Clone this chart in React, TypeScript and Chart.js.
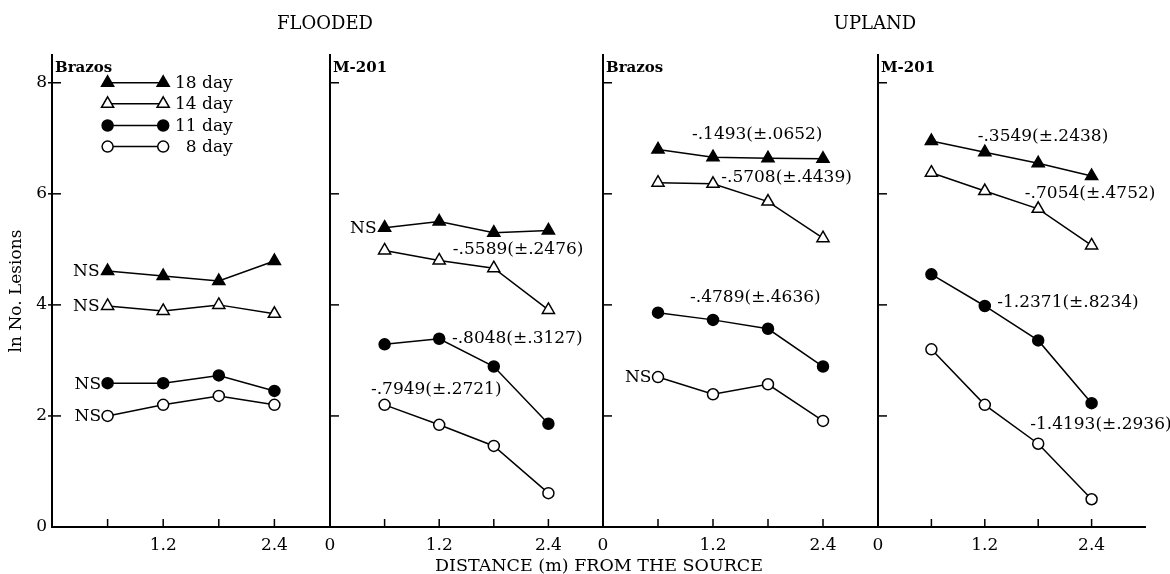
import React, { useEffect, useRef } from 'react';
import { Chart, registerables } from 'chart.js';

Chart.register(...registerables);

const FONT_FAMILY = '"DejaVu Serif", serif';
const FONT_SIZE = 17;

// ---- axes / ticks ----
const distances = [0.6, 1.2, 1.8, 2.4];
const xTickValues = [0, 0.6, 1.2, 1.8, 2.4];
const xTickLabels = ['0', '', '1.2', '', '2.4'];
const yTickValues = [0, 2, 4, 6, 8];
const yTickLabels = ['0', '2', '4', '6', '8'];
const seriesNames = ['18 day', '14 day', '11 day', '8 day'];
const groupTitles = ['FLOODED', 'UPLAND'];
const panelNames = ['Brazos', 'M-201', 'Brazos', 'M-201'];
const yAxisTitle = 'ln No. Lesions';
const xAxisTitle = 'DISTANCE (m) FROM THE SOURCE';

// ---- data: ln No. Lesions at 0.6, 1.2, 1.8, 2.4 m ----
const floodedBrazos18 = [4.61, 4.52, 4.43, 4.79];
const floodedBrazos14 = [3.98, 3.89, 4.0, 3.84];
const floodedBrazos11 = [2.59, 2.59, 2.73, 2.45];
const floodedBrazos8 = [2.0, 2.2, 2.36, 2.2];

const floodedM201_18 = [5.39, 5.5, 5.3, 5.34];
const floodedM201_14 = [4.98, 4.8, 4.66, 3.91];
const floodedM201_11 = [3.29, 3.39, 2.89, 1.86];
const floodedM201_8 = [2.2, 1.84, 1.46, 0.61];

const uplandBrazos18 = [6.8, 6.66, 6.64, 6.63];
const uplandBrazos14 = [6.2, 6.18, 5.86, 5.2];
const uplandBrazos11 = [3.86, 3.73, 3.57, 2.89];
const uplandBrazos8 = [2.7, 2.39, 2.57, 1.91];

const uplandM201_18 = [6.95, 6.75, 6.55, 6.32];
const uplandM201_14 = [6.38, 6.05, 5.73, 5.07];
const uplandM201_11 = [4.55, 3.98, 3.36, 2.23];
const uplandM201_8 = [3.2, 2.2, 1.5, 0.5];

const panelSeries = [
  [floodedBrazos18, floodedBrazos14, floodedBrazos11, floodedBrazos8],
  [floodedM201_18, floodedM201_14, floodedM201_11, floodedM201_8],
  [uplandBrazos18, uplandBrazos14, uplandBrazos11, uplandBrazos8],
  [uplandM201_18, uplandM201_14, uplandM201_11, uplandM201_8],
];

// ---- annotations ----
const nsMarks = [
  { panel: 0, series: 0 },
  { panel: 0, series: 1 },
  { panel: 0, series: 2 },
  { panel: 0, series: 3 },
  { panel: 1, series: 0 },
  { panel: 2, series: 3 },
];
const slopeTexts = [
  [],
  ['-.5589(±.2476)', '-.8048(±.3127)', '-.7949(±.2721)'],
  ['-.1493(±.0652)', '-.5708(±.4439)', '-.4789(±.4636)'],
  ['-.3549(±.2438)', '-.7054(±.4752)', '-1.2371(±.8234)', '-1.4193(±.2936)'],
];
// left-anchored label positions in data units (distance, ln lesions)
const slopeAnchorX = [[], [1.35, 1.34, 0.45], [0.97, 1.29, 0.95], [1.12, 1.65, 1.34, 1.71]];
const slopeAnchorY = [[], [4.99, 3.4, 2.47], [7.06, 6.29, 4.13], [7.03, 6.0, 4.04, 1.84]];

// ---- legend layout (panel 1), in data units ----
const legendRowY = [8.0, 7.62, 7.23, 6.85];
const legendMarkerX = [0.6, 1.2];
const legendTextRightX = 1.95;

// ---- styles ----
const seriesStyles = [
  { pointStyle: 'triangle', filled: true, radius: 7 },
  { pointStyle: 'triangle', filled: false, radius: 7 },
  { pointStyle: 'circle', filled: true, radius: 5.5 },
  { pointStyle: 'circle', filled: false, radius: 5.5 },
];

const CANVAS_H = 574;
const panelFrames = [
  { left: 0, width: 330, yAxisWidth: 52, padRight: 0 },
  { left: 310, width: 293, yAxisWidth: 20, padRight: 0 },
  { left: 583, width: 295, yAxisWidth: 20, padRight: 0 },
  { left: 858, width: 312, yAxisWidth: 20, padRight: 25 },
];

function drawMarker(ctx: CanvasRenderingContext2D, style: any, x: number, y: number) {
  ctx.save();
  ctx.beginPath();
  const r = style.radius;
  if (style.pointStyle === 'triangle') {
    ctx.moveTo(x, y - r);
    ctx.lineTo(x + 0.866 * r, y + 0.5 * r);
    ctx.lineTo(x - 0.866 * r, y + 0.5 * r);
    ctx.closePath();
  } else {
    ctx.arc(x, y, r, 0, Math.PI * 2);
  }
  ctx.fillStyle = style.filled ? '#000' : '#fff';
  ctx.fill();
  ctx.lineWidth = 1.5;
  ctx.strokeStyle = '#000';
  ctx.stroke();
  ctx.restore();
}

function makeOverlay(index: number) {
  return {
    id: 'overlay' + index,
    afterDraw(chart: any) {
      const ctx: CanvasRenderingContext2D = chart.ctx;
      const xs = chart.scales.x;
      const ys = chart.scales.y;
      const area = chart.chartArea;
      ctx.save();
      ctx.strokeStyle = '#000';
      ctx.lineWidth = 1.5;
      // inward tick marks
      distances.forEach((v) => {
        const px = xs.getPixelForValue(v);
        ctx.beginPath();
        ctx.moveTo(px, area.bottom);
        ctx.lineTo(px, area.bottom - 8);
        ctx.stroke();
      });
      yTickValues.slice(1).forEach((v) => {
        const py = ys.getPixelForValue(v);
        ctx.beginPath();
        ctx.moveTo(area.left - (index === 0 ? 4 : 0), py);
        ctx.lineTo(area.left + 9, py);
        ctx.stroke();
      });

      // panel name
      ctx.fillStyle = '#000';
      ctx.font = `bold 15px ${FONT_FAMILY}`;
      ctx.textAlign = 'left';
      ctx.textBaseline = 'middle';
      ctx.fillText(panelNames[index], area.left + 3, area.top + 13);

      ctx.font = `${FONT_SIZE}px ${FONT_FAMILY}`;

      // legend
      if (index === 0) {
        legendRowY.forEach((yv, s) => {
          const py = ys.getPixelForValue(yv);
          const x1 = xs.getPixelForValue(legendMarkerX[0]);
          const x2 = xs.getPixelForValue(legendMarkerX[1]);
          ctx.beginPath();
          ctx.lineWidth = 1.5;
          ctx.moveTo(x1, py);
          ctx.lineTo(x2, py);
          ctx.stroke();
          drawMarker(ctx, seriesStyles[s], x1, py);
          drawMarker(ctx, seriesStyles[s], x2, py);
          ctx.textAlign = 'right';
          ctx.fillText(seriesNames[s], xs.getPixelForValue(legendTextRightX), py + 1);
        });
      }

      // NS marks
      nsMarks
        .filter((m) => m.panel === index)
        .forEach((m) => {
          const meta = chart.getDatasetMeta(m.series);
          const pt = meta.data[0];
          ctx.textAlign = 'right';
          ctx.fillText('NS', pt.x - seriesStyles[m.series].radius - 1, pt.y + 1);
        });

      // slope labels
      slopeTexts[index].forEach((t, k) => {
        ctx.textAlign = 'left';
        ctx.fillText(t, xs.getPixelForValue(slopeAnchorX[index][k]), ys.getPixelForValue(slopeAnchorY[index][k]));
      });
      ctx.restore();
    },
  };
}

function Panel({ index }: { index: number }) {
  const ref = useRef<HTMLCanvasElement>(null);
  const frame = panelFrames[index];
  useEffect(() => {
    const font = { family: FONT_FAMILY, size: FONT_SIZE };
    const chart = new Chart(ref.current as HTMLCanvasElement, {
      type: 'line',
      data: {
        datasets: panelSeries[index].map((vals, s) => ({
          label: seriesNames[s],
          data: vals.map((v, i) => ({ x: distances[i], y: v })),
          borderColor: '#000',
          borderWidth: 1.5,
          pointStyle: seriesStyles[s].pointStyle as any,
          pointRadius: seriesStyles[s].radius,
          pointBackgroundColor: seriesStyles[s].filled ? '#000' : '#fff',
          pointBorderColor: '#000',
          pointBorderWidth: 1.5,
          tension: 0,
          fill: false,
        })),
      },
      options: {
        animation: false,
        responsive: false,
        maintainAspectRatio: false,
        layout: { autoPadding: false, padding: { top: 55, right: frame.padRight, bottom: 0, left: 0 } },
        plugins: { legend: { display: false }, tooltip: { enabled: false }, title: { display: false } },
        scales: {
          x: {
            type: 'linear',
            min: 0,
            max: 3,
            border: { display: true, color: '#000', width: 2 },
            grid: { display: false, drawTicks: false },
            afterBuildTicks: (s: any) => {
              s.ticks = xTickValues.map((v) => ({ value: v }));
            },
            afterFit: (s: any) => {
              s.height = CANVAS_H - 527;
            },
            ticks: {
              autoSkip: false,
              maxRotation: 0,
              padding: 8,
              color: '#000',
              font,
              callback: (_v: any, i: number) => (index === 0 && i === 0 ? '' : xTickLabels[i]),
            },
          },
          y: {
            type: 'linear',
            min: 0,
            max: 8.5,
            border: { display: true, color: '#000', width: 2 },
            grid: { display: false, drawTicks: false },
            afterBuildTicks: (s: any) => {
              s.ticks = yTickValues.map((v) => ({ value: v }));
            },
            afterFit: (s: any) => {
              s.width = frame.yAxisWidth;
            },
            ticks: {
              display: index === 0,
              padding: 5,
              color: '#000',
              font,
              callback: (_v: any, i: number) => yTickLabels[i],
            },
            title: {
              display: index === 0,
              text: yAxisTitle,
              color: '#000',
              font,
              padding: { top: 6, bottom: 0 },
            },
          },
        },
      },
      plugins: [makeOverlay(index)],
    });
    return () => chart.destroy();
  }, [index]);
  return (
    <canvas
      ref={ref}
      width={frame.width}
      height={CANVAS_H}
      style={{ position: 'absolute', left: frame.left, top: 0, width: frame.width, height: CANVAS_H }}
    />
  );
}

const textStyle: React.CSSProperties = {
  position: 'absolute',
  fontFamily: FONT_FAMILY,
  fontSize: FONT_SIZE,
  color: '#000',
  whiteSpace: 'nowrap',
  transform: 'translate(-50%, -50%)',
  lineHeight: 1,
};

export default function App() {
  useEffect(() => {
    document.body.style.margin = '0';
  }, []);
  return (
    <div style={{ position: 'fixed', left: 0, top: 0, width: 1170, height: CANVAS_H, background: '#fff', overflow: 'hidden' }}>
      {[0, 1, 2, 3].map((i) => (
        <Panel key={i} index={i} />
      ))}
      <div style={{ ...textStyle, fontSize: 18, left: 325, top: 23 }}>{groupTitles[0]}</div>
      <div style={{ ...textStyle, fontSize: 18, left: 875, top: 23 }}>{groupTitles[1]}</div>
      <div style={{ ...textStyle, fontSize: 17.5, left: 599, top: 566 }}>{xAxisTitle}</div>
    </div>
  );
}
